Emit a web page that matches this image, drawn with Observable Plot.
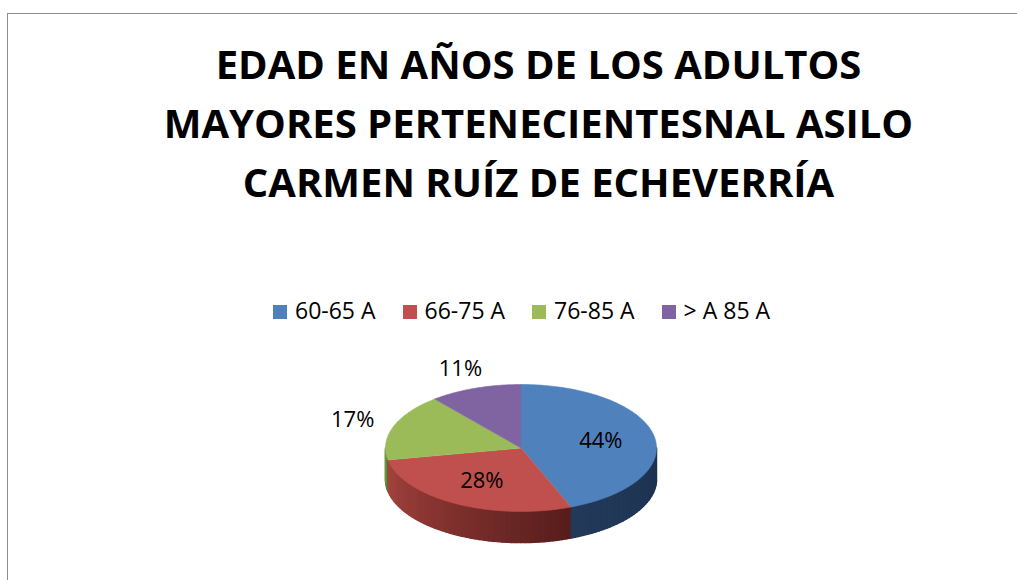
<!DOCTYPE html>
<html>
<head>
<meta charset="utf-8">
<script src="https://cdn.jsdelivr.net/npm/d3@7"></script>
<script src="https://cdn.jsdelivr.net/npm/@observablehq/plot@0.6"></script>
<style>
  html, body { margin: 0; padding: 0; background: #fff; }
  #frame { position: relative; width: 1017px; height: 580px; overflow: hidden; font-family: "Open Sans", sans-serif; }
  #border { position: absolute; left: 7px; top: 13px; width: 1100px; height: 700px; border-left: 1.5px solid #8c8c8c; border-top: 1.5px solid #8c8c8c; box-sizing: border-box; }
  #title { position: absolute; left: 60px; width: 957px; top: 34px; text-align: center; font-weight: 700; font-size: 40px; line-height: 59px; color: #000; }
  #legend { position: absolute; left: 273px; top: 295px; display: flex; align-items: center; font-size: 23px; line-height: 31px; color: #000; }
  .item { display: flex; align-items: center; margin-right: 27px; }
  .sw { width: 14px; height: 14px; margin-right: 8px; position: relative; top: 1.5px; }
  #chart { position: absolute; left: 0; top: 330px; }
</style>
</head>
<body>
<div id="frame">
  <div id="border"></div>
  <div id="title"></div>
  <div id="legend"></div>
  <div id="chart"></div>
</div>
<script>
// ---- data ----
const titleLines = ["EDAD EN AÑOS DE LOS ADULTOS", "MAYORES PERTENECIENTESNAL ASILO", "CARMEN RUÍZ DE ECHEVERRÍA"];
const categories = ["60-65 A", "66-75 A", "76-85 A", "> A 85 A"];
const values = [44, 28, 17, 11];
const labels = ["44%", "28%", "17%", "11%"];
const topColors = ["#4f81bd", "#c0504d", "#9bbb59", "#8064a2"];
const sideLight = ["#223a5a", "#a5433f", "#7a9444", "#644e82"];
const sideDark = ["#1d3250", "#561d1b", "#55672e", "#463659"];

// ---- title & legend ----
document.getElementById("title").innerHTML = titleLines.map(t => `<div>${t}</div>`).join("");
const legend = document.getElementById("legend");
categories.forEach((c, i) => {
  const it = document.createElement("div");
  it.className = "item";
  it.innerHTML = `<span class="sw" style="background:${topColors[i]}"></span><span>${c.replace(/</g, "&lt;").replace(/>/g, "&gt;")}</span>`;
  legend.appendChild(it);
});

// ---- pie geometry (unit ellipse, clockwise from 12 o'clock) ----
const W = 1017, H = 250;
const cx = 520.5, cy = 117.5, rx = 135.5, ry = 63.5, depthPx = 31;
const depth = depthPx / ry;
const arcs = d3.pie().sort(null).value(d => d)(values);
const step = Math.PI / 180;
const px = a => Math.sin(a);
const py = a => -Math.cos(a);

const tops = [];
arcs.forEach((a, i) => {
  tops.push({k: i, x: 0, y: 0, c: topColors[i]});
  for (let t = a.startAngle; t < a.endAngle; t += step) tops.push({k: i, x: px(t), y: py(t), c: topColors[i]});
  tops.push({k: i, x: px(a.endAngle), y: py(a.endAngle), c: topColors[i]});
});

const sides = [];
let q = 0;
arcs.forEach((a, i) => {
  const s = Math.max(a.startAngle, Math.PI / 2), e = Math.min(a.endAngle, 3 * Math.PI / 2);
  if (e <= s) return;
  const n = Math.max(1, Math.ceil((e - s) / (2 * step)));
  const interp = d3.interpolateRgb(sideDark[i], sideLight[i]);
  for (let j = 0; j < n; j++) {
    const t0 = s + (e - s) * j / n, t1 = s + (e - s) * (j + 1) / n;
    const c = interp((j + 0.5) / n);
    sides.push({k: q, x: px(t0), y: py(t0), c}, {k: q, x: px(t1), y: py(t1), c},
               {k: q, x: px(t1), y: py(t1) + depth, c}, {k: q, x: px(t0), y: py(t0) + depth, c});
    q++;
  }
});

const labelData = arcs.map((a, i) => {
  const mid = (a.startAngle + a.endAngle) / 2;
  const inside = values[i] >= 20;
  const r = inside ? 0.6 : 1.32;
  return {x: r * px(mid), y: r * py(mid), text: labels[i]};
});

const chart = Plot.plot({
  width: W, height: H,
  margin: 0,
  x: {domain: [-1, 1], range: [cx - rx, cx + rx], axis: null},
  y: {domain: [-1, 1], range: [cy - ry, cy + ry], axis: null},
  color: {type: "identity"},
  style: {background: "transparent", fontFamily: "Open Sans", overflow: "visible"},
  marks: [
    Plot.line(sides, {x: "x", y: "y", z: "k", fill: "c", stroke: "c", strokeWidth: 1.6, curve: "linear"}),
    Plot.line(tops, {x: "x", y: "y", z: "k", fill: "c", stroke: "c", strokeWidth: 0.6, curve: "linear"}),
    Plot.text(labelData, {x: "x", y: "y", text: "text", fill: "#000", fontSize: 22})
  ]
});
document.getElementById("chart").appendChild(chart);
</script>
</body>
</html>
